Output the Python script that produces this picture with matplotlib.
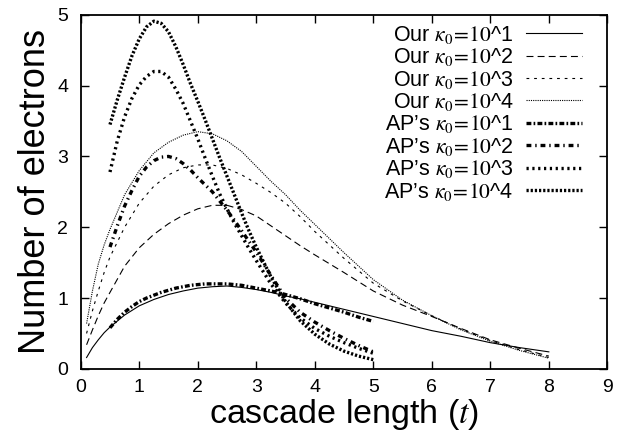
import matplotlib

matplotlib.use("Agg")
import matplotlib.pyplot as plt

plt.rcParams["font.family"] = ["Liberation Sans", "DejaVu Sans"]
plt.rcParams["mathtext.fontset"] = "stix"
plt.rcParams["lines.scale_dashes"] = False

# our model, t = 0.1 .. 8
t_our = [0.1, 0.2, 0.3, 0.4, 0.5, 0.75, 1.0, 1.25, 1.5, 1.75, 2.0, 2.25, 2.5, 2.75,
         3.0, 3.25, 3.5, 3.75, 4.0, 4.5, 5.0, 5.5, 6.0, 6.5, 7.0, 7.5, 8.0]
our_k1 = [0.16, 0.30, 0.41, 0.51, 0.59, 0.76, 0.89, 0.98, 1.05, 1.10, 1.14, 1.16, 1.17, 1.15,
          1.12, 1.08, 1.03, 0.99, 0.94, 0.84, 0.74, 0.64, 0.54, 0.46, 0.37, 0.30, 0.24]
our_k2 = [0.34, 0.55, 0.75, 0.93, 1.08, 1.45, 1.71, 1.90, 2.05, 2.17, 2.26, 2.31, 2.31, 2.25,
          2.16, 2.02, 1.88, 1.74, 1.61, 1.36, 1.10, 0.90, 0.74, 0.57, 0.41, 0.29, 0.18]
our_k3 = [0.50, 0.82, 1.10, 1.36, 1.58, 2.00, 2.34, 2.58, 2.74, 2.84, 2.88, 2.88, 2.83, 2.74,
          2.62, 2.49, 2.34, 2.15, 1.94, 1.56, 1.21, 0.96, 0.75, 0.56, 0.40, 0.27, 0.16]
our_k4 = [0.64, 1.10, 1.48, 1.75, 1.97, 2.46, 2.80, 3.05, 3.20, 3.30, 3.35, 3.32, 3.22, 3.07,
          2.86, 2.65, 2.46, 2.24, 2.04, 1.64, 1.26, 0.97, 0.75, 0.55, 0.39, 0.26, 0.15]

# AP's model, t = 0.5 .. 5
t_ap = [0.5, 0.625, 0.75, 0.875, 1.0, 1.125, 1.25, 1.375, 1.5, 1.625, 1.75, 1.875, 2.0, 2.125,
        2.25, 2.375, 2.5, 2.625, 2.75, 2.875, 3.0, 3.25, 3.5, 3.75, 4.0, 4.25, 4.5, 4.75, 5.0]
ap_k1 = [0.58, 0.70, 0.80, 0.88, 0.95, 1.00, 1.04, 1.08, 1.11, 1.14, 1.16, 1.18, 1.19, 1.20,
         1.20, 1.20, 1.20, 1.19, 1.18, 1.16, 1.14, 1.10, 1.05, 0.99, 0.92, 0.86, 0.80, 0.73, 0.67]
ap_k2 = [1.72, 2.02, 2.30, 2.52, 2.72, 2.85, 2.94, 2.99, 3.00, 2.97, 2.90, 2.81, 2.70, 2.60,
         2.50, 2.37, 2.24, 2.10, 1.95, 1.80, 1.65, 1.32, 1.00, 0.80, 0.66, 0.54, 0.43, 0.33, 0.24]
ap_k3 = [2.78, 3.22, 3.56, 3.82, 4.01, 4.13, 4.20, 4.20, 4.12, 3.95, 3.75, 3.50, 3.25, 2.98,
         2.72, 2.47, 2.26, 2.06, 1.88, 1.70, 1.53, 1.20, 0.93, 0.72, 0.57, 0.46, 0.37, 0.29, 0.22]
ap_k4 = [3.45, 3.80, 4.12, 4.42, 4.66, 4.83, 4.91, 4.88, 4.76, 4.55, 4.30, 4.03, 3.78, 3.52,
         3.25, 2.98, 2.72, 2.46, 2.20, 1.95, 1.72, 1.30, 0.95, 0.68, 0.49, 0.35, 0.25, 0.18, 0.13]

exps = ["1", "2", "3", "4"]

fig = plt.figure(figsize=(6.21, 4.36), dpi=100)
ax = fig.add_axes([0.13, 0.154, 0.848, 0.812])

thin = 0.8
thick = 2.4
ax.plot(t_our, our_k1, color="black", lw=thin, label=f"Our $\\kappa_0\\!=\\!10$^{exps[0]}")
ax.plot(t_our, our_k2, color="black", lw=thin, dashes=(5, 3), label=f"Our $\\kappa_0\\!=\\!10$^{exps[1]}")
ax.plot(t_our, our_k3, color="black", lw=thin, dashes=(2, 3.5), label=f"Our $\\kappa_0\\!=\\!10$^{exps[2]}")
ax.plot(t_our, our_k4, color="black", lw=thin, dashes=(0.8, 0.8), label=f"Our $\\kappa_0\\!=\\!10$^{exps[3]}")
ax.plot(t_ap, ap_k1, color="black", lw=thick, dashes=(3.5, 1.6, 1.2, 1.6), label=f"AP’s $\\kappa_0\\!=\\!10$^{exps[0]}")
ax.plot(t_ap, ap_k2, color="black", lw=thick, dashes=(3.5, 2.8, 1.0, 2.8), label=f"AP’s $\\kappa_0\\!=\\!10$^{exps[1]}")
ax.plot(t_ap, ap_k3, color="black", lw=thick, dashes=(1.6, 2.6), label=f"AP’s $\\kappa_0\\!=\\!10$^{exps[2]}")
ax.plot(t_ap, ap_k4, color="black", lw=thick, dashes=(1.6, 1.4), label=f"AP’s $\\kappa_0\\!=\\!10$^{exps[3]}")

ax.set_xlim(0, 9)
ax.set_ylim(0, 5)
ax.set_xticks(range(0, 10))
ax.set_yticks(range(0, 6))
ax.tick_params(direction="in", length=6, width=1, top=True, right=True, labelsize=14)
ax.tick_params(axis="x", pad=7)
ax.tick_params(axis="y", pad=9)
for sp in ax.spines.values():
    sp.set_linewidth(1.3)

ax.set_xlabel("cascade length ($t$)", fontsize=24.5, labelpad=1)
ax.set_ylabel("Number of electrons", fontsize=26, labelpad=3)

leg = ax.legend(loc="upper right", bbox_to_anchor=(0.952, 0.975), frameon=False, fontsize=15.5,
                markerfirst=False, handlelength=2.6, handletextpad=0.6, labelspacing=0.02,
                borderpad=0, borderaxespad=0)

fig.savefig("out.png", dpi=100)
